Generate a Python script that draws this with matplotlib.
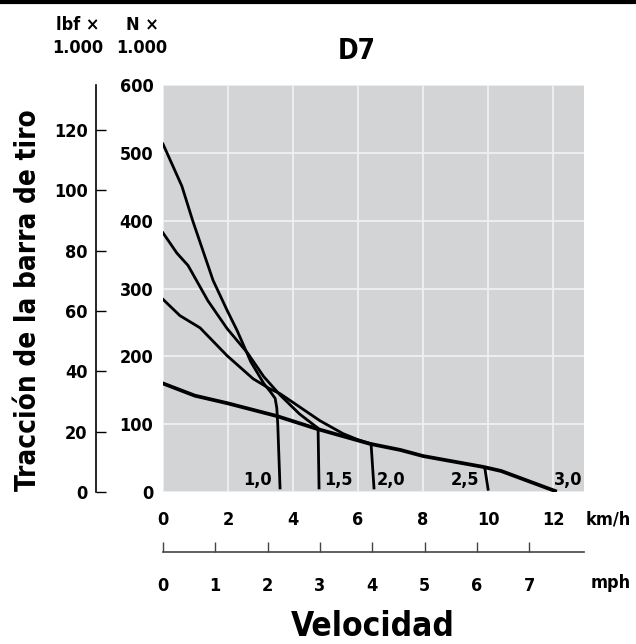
import matplotlib.pyplot as plt

# velocidad (km/h) y traccion (N x 1.000)
v_10 = [0, 0.58, 0.92, 1.54, 1.97, 2.28, 2.7, 3.1, 3.3, 3.45, 3.5, 3.53, 3.6]
f_10 = [513, 451, 399, 312, 268, 238, 192, 160, 148, 138, 124, 100, 6]
v_15 = [0, 0.43, 0.77, 1.38, 1.97, 2.6, 3.1, 3.6, 4.2, 4.77, 4.8]
f_15 = [382, 352, 334, 282, 241, 205, 170, 143, 115, 94, 6]
v_20 = [0, 0.52, 1.14, 1.97, 2.77, 3.29, 3.6, 4.83, 5.54, 6.0, 6.4, 6.49]
f_20 = [284, 260, 242, 201, 167, 152, 145, 105, 86, 77, 71, 6]
v_25 = [9.9, 10.0]
f_25 = [35, 4]
v_30 = [0, 0.98, 1.97, 3.5, 4.74, 6.37, 7.3, 8.0, 9.85, 10.4, 12.06]
f_30 = [160, 142, 131, 112, 93, 71, 62, 53, 37, 31, 1.5]

gears = ["1,0", "1,5", "2,0", "2,5", "3,0"]
gear_x = [2.92, 5.4, 7.0, 9.3, 12.45]
gear_y = 18

n_ticks = [0, 100, 200, 300, 400, 500, 600]
lbf_ticks = [0, 20, 40, 60, 80, 100, 120]
kmh_ticks = [0, 2, 4, 6, 8, 10, 12]
mph_ticks = [0, 1, 2, 3, 4, 5, 6, 7]

plt.rcParams["font.family"] = ["DejaVu Sans"]
plt.rcParams["font.stretch"] = "condensed"
plt.rcParams["font.weight"] = "bold"

fig = plt.figure(figsize=(6.36, 6.44), dpi=100)
ax = fig.add_axes([163 / 636, 1 - 492 / 644, 421 / 636, 407 / 644])
ax.set_facecolor("#d3d4d6")

ax.plot(v_10, f_10, color="k", lw=2.0)
ax.plot(v_15, f_15, color="k", lw=2.0)
ax.plot(v_20, f_20, color="k", lw=2.0)
ax.plot(v_25, f_25, color="k", lw=2.0)
ax.plot(v_30, f_30, color="k", lw=2.7)
for g, x in zip(gears, gear_x):
    ax.text(x, gear_y, g, ha="center", va="center", fontsize=13, fontweight="bold")

ax.set_xlim(0, 12.95)
ax.set_ylim(0, 600)
ax.set_xticks(kmh_ticks)
ax.set_yticks(n_ticks)
ax.grid(True, color="#f0f0f0", lw=1.3)
ax.set_axisbelow(True)
for s in ax.spines.values():
    s.set_visible(False)
ax.tick_params(axis="x", length=0, pad=14, labelsize=13)
ax.tick_params(axis="y", length=0, pad=7, labelsize=13)

# eje lbf a la izquierda
ax2 = ax.secondary_yaxis(-0.159, functions=(lambda n: n / 4.448, lambda l: l * 4.448))
ax2.set_yticks(lbf_ticks)
ax2.spines["left"].set_linewidth(1.2)
ax2.tick_params(direction="in", length=7, width=1, pad=6, labelsize=13)

# eje mph debajo
ax3 = ax.secondary_xaxis(-0.148, functions=(lambda k: k / 1.609, lambda m: m * 1.609))
ax3.set_xticks(mph_ticks)
ax3.spines["bottom"].set_color("#444444")
ax3.spines["bottom"].set_linewidth(1.2)
ax3.tick_params(direction="in", length=7, width=1, color="#444444", pad=18, labelsize=13)

fig.text(608 / 636, 1 - 519 / 644, "km/h", ha="center", va="center", fontsize=13)
fig.text(611 / 636, 1 - 583 / 644, "mph", ha="center", va="center", fontsize=13)
fig.text(78 / 636, 1 - 25 / 644, "lbf ×", ha="center", va="center", fontsize=13)
fig.text(78 / 636, 1 - 48 / 644, "1.000", ha="center", va="center", fontsize=13)
fig.text(142 / 636, 1 - 25 / 644, "N ×", ha="center", va="center", fontsize=13)
fig.text(142 / 636, 1 - 48 / 644, "1.000", ha="center", va="center", fontsize=13)
fig.text(357 / 636, 1 - 51 / 644, "D7", ha="center", va="center", fontsize=20)
fig.text(373 / 636, 1 - 627 / 644, "Velocidad", ha="center", va="center", fontsize=24)
fig.text(28 / 636, 1 - 300 / 644, "Tracción de la barra de tiro", rotation=90,
         ha="center", va="center", fontsize=20)
fig.add_artist(plt.Line2D([0, 1], [0.997, 0.997], transform=fig.transFigure, color="k", lw=3))

fig.savefig("out.png", dpi=100)
